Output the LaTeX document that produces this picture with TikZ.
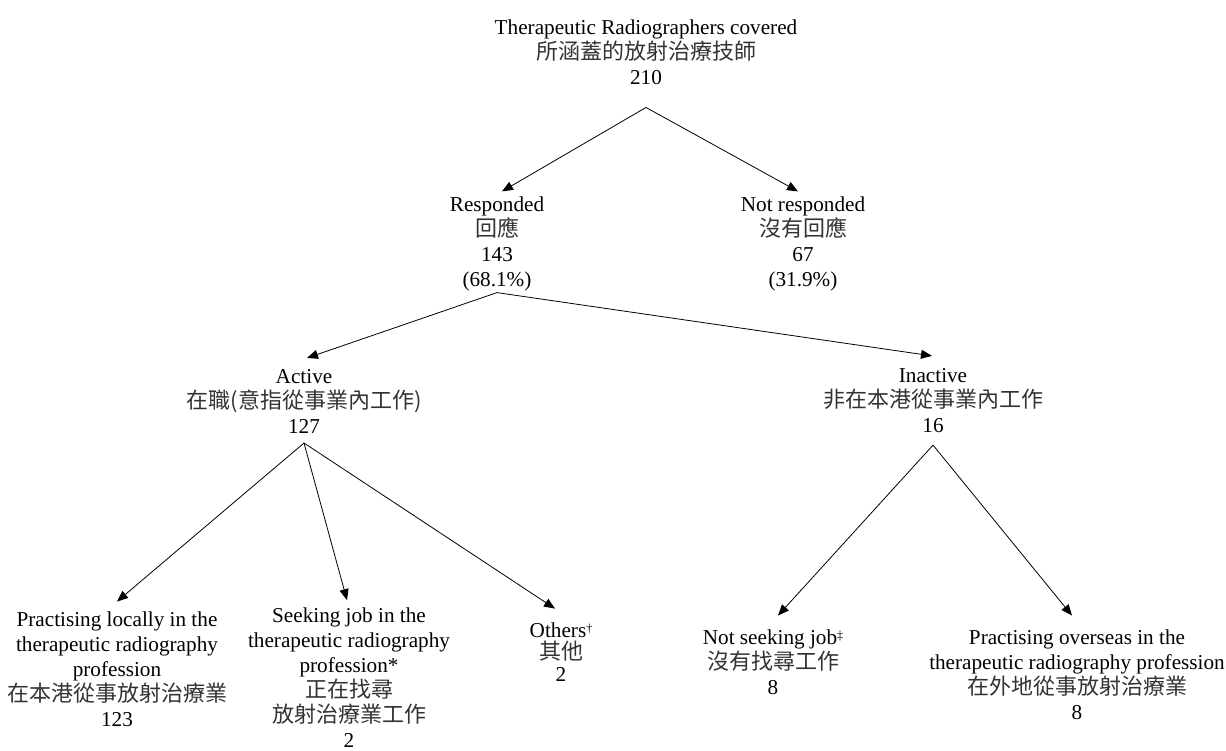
\documentclass[tikz,border=0pt]{standalone}
\usepackage{fontspec}
\setmainfont{Liberation Serif}
\newfontfamily\cjkfont{Noto Sans CJK TC}
\usetikzlibrary{arrows.meta}
\newcommand{\zh}[1]{{\cjkfont\fontsize{22}{25}\selectfont\color{black!80}#1}}
\tikzset{
  lbl/.style={align=center, inner sep=0pt, outer sep=0pt, font=\fontsize{21.2}{25}\selectfont},
  tight/.style={lbl, font=\fontsize{21.2}{22}\selectfont},
  conn/.style={-{Triangle[length=11pt,width=9pt]}, line width=0.8pt, black}
}
\begin{document}
\begin{tikzpicture}[x=1pt,y=-1pt]
\useasboundingbox (0,0) rectangle (1226,751);

\node[lbl] (top) at (646,52) {Therapeutic Radiographers covered\\ \zh{所涵蓋的放射治療技師}\\ 210};
\node[lbl] (resp) at (497,243.5) {Responded\\ \zh{回應}\\ 143\\ (68.1\%)};
\node[lbl] (nresp) at (803,243.5) {Not responded\\ \zh{沒有回應}\\ 67\\ (31.9\%)};
\node[lbl] (active) at (304,401) {Active\\ \zh{在職(意指從事業內工作)}\\ 127};
\node[lbl] (inactive) at (933,401) {Inactive\\ \zh{非在本港從事業內工作}\\ 16};
\node[lbl] (local) at (117,669) {Practising locally in the\\ therapeutic radiography\\ profession\\ \zh{在本港從事放射治療業}\\ 123};
\node[lbl] (seek) at (349,678) {Seeking job in the\\ therapeutic radiography\\ profession*\\ \zh{正在找尋}\\ \zh{放射治療業工作}\\ 2};
\node[tight] (others) at (561,652) {Others{\fontsize{12}{12}\selectfont\raisebox{5pt}{†}}\\ \zh{其他}\\ 2};
\node[lbl] (nseek) at (773,662) {Not seeking job{\fontsize{12}{12}\selectfont\raisebox{5pt}{‡}}\\ \zh{沒有找尋工作}\\ 8};
\node[lbl] (overseas) at (1077,674.5) {Practising overseas in the\\ therapeutic radiography profession\\ \zh{在外地從事放射治療業}\\ 8};

\coordinate (topA) at ([yshift=-23pt]top.south);
\coordinate (respA) at ([yshift=-2pt]resp.south);
\coordinate (activeA) at ([yshift=-10pt]active.south);
\coordinate (inactiveA) at ([yshift=-12pt]inactive.south);

\draw[conn] (topA) -- ([xshift=5pt,yshift=5pt]resp.north);
\draw[conn] (topA) -- ([xshift=-5pt,yshift=5pt]nresp.north);
\draw[conn] (respA) -- ([xshift=3pt,yshift=11pt]active.north);
\draw[conn] (respA) -- ([xshift=-1pt,yshift=13pt]inactive.north);
\draw[conn] (activeA) -- ([yshift=10pt]local.north);
\draw[conn] (activeA) -- ([xshift=-2pt,yshift=8pt]seek.north);
\draw[conn] (activeA) -- ([xshift=-6pt,yshift=14pt]others.north);
\draw[conn] (inactiveA) -- ([xshift=5pt,yshift=14pt]nseek.north);
\draw[conn] (inactiveA) -- ([xshift=-5pt,yshift=14pt]overseas.north);
\end{tikzpicture}
\end{document}
